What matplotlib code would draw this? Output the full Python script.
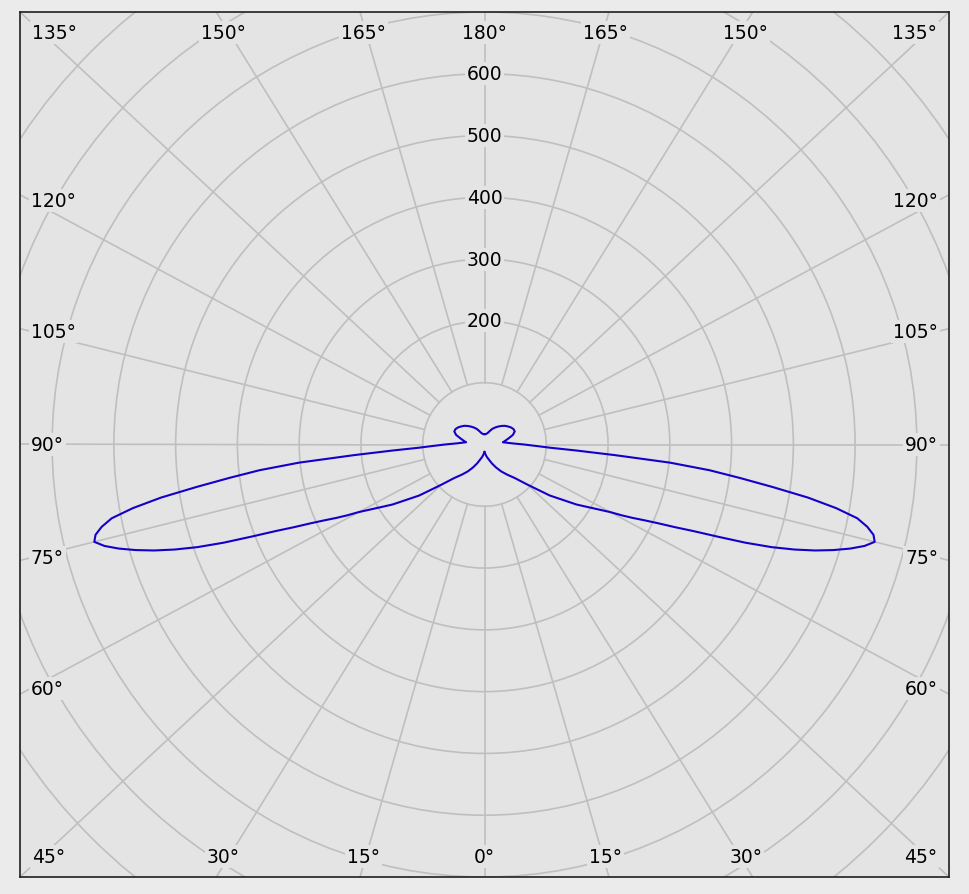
import numpy as np
import matplotlib.pyplot as plt
from matplotlib.patches import Circle

# luminous intensity (cd) against gamma angle, C0/C180 plane (symmetric)
gamma = [0, 5, 10, 15, 20, 25, 30, 35, 40, 45, 50, 55,
         60, 61, 62, 63, 64, 65, 66, 67, 68, 69, 70, 71, 72, 73, 74, 75,
         76, 77, 78, 79, 80, 81, 82, 83, 84, 85, 86, 87, 88, 89, 90,
         92.5, 95, 97.5, 100, 105, 110, 115, 120, 125, 130, 135, 140,
         145, 150, 155, 160, 165, 170, 175, 180]
intensity = [13, 17, 22, 27, 35, 44, 54, 64, 76, 99, 138, 182,
             235, 254, 272, 290, 312, 340, 370, 410, 456, 498, 534, 566,
             594, 619, 640, 654,
             649, 636, 617, 580, 532, 472, 417, 367, 302, 212, 148, 106,
             88, 74, 64,
             45, 36, 30, 33, 40, 49, 54, 54, 52, 49, 46, 42,
             38, 34, 30, 25, 21, 19, 18, 18]

rings = [100, 200, 300, 400, 500, 600, 700, 800, 900]
ring_labels = [200, 300, 400, 500, 600]
spoke_angles = list(range(0, 360, 15))

BG = '#e4e4e4'
GRID = '#bfbfbf'
XMAX, YMAX = 752, 700
K = YMAX / XMAX  # the grid is stretched to the frame


def to_xy(g, r, side=1):
    g = np.radians(np.asarray(g, dtype=float))
    r = np.asarray(r, dtype=float)
    return side * r * np.sin(g), -K * r * np.cos(g)


fig = plt.figure(figsize=(9.69, 8.95), dpi=100, facecolor='#ebebeb')
ax = fig.add_axes([20 / 969, 17 / 895, 929 / 969, 865 / 895])
ax.set_facecolor(BG)
ax.set_xlim(-XMAX, XMAX)
ax.set_ylim(-YMAX, YMAX)
ax.set_xticks([])
ax.set_yticks([])
for sp in ax.spines.values():
    sp.set_color('#202020')
    sp.set_linewidth(1.2)

for r in rings:
    ax.add_patch(Circle((0, 0), r, fill=False, color=GRID, lw=1.2, zorder=1))

for a in spoke_angles:
    dx, dy = to_xy(a, 1.0)
    start = 100 / np.hypot(dx, dy)
    ax.plot([dx * start, dx * 1500], [dy * start, dy * 1500], color=GRID, lw=1.2, zorder=1)

# intensity curve, both half planes
xr, yr = to_xy(gamma, intensity, 1)
xl, yl = to_xy(gamma, intensity, -1)
ax.plot(xr, yr, color='#1400c8', lw=1.5, zorder=3)
ax.plot(xl, yl, color='#1400c8', lw=1.5, zorder=3)

font = dict(family='DejaVu Sans', fontsize=13.5, color='black', zorder=4)
box = dict(facecolor=BG, edgecolor='none', pad=1.5)

for v in ring_labels:
    ax.text(0, v, str(v), ha='center', va='center', bbox=box, **font)

# angle labels where each spoke meets the inside of the frame
inset = 17.8
hw, hh = XMAX - inset, YMAX - inset
for a in spoke_angles:
    dx, dy = to_xy(a, 1.0)
    tx = hw / abs(dx) if abs(dx) > 1e-9 else np.inf
    ty = hh / abs(dy) if abs(dy) > 1e-9 else np.inf
    t = min(tx, ty)
    px, py = dx * t, dy * t
    label = f"{a if a <= 180 else 360 - a}°"
    if abs(tx - ty) / t < 0.02:
        ha = 'left' if px < 0 else 'right'
        va = 'top' if py > 0 else 'bottom'
    elif tx < ty:
        ha = 'left' if px < 0 else 'right'
        va = 'center'
    else:
        ha = 'center'
        va = 'top' if py > 0 else 'bottom'
    ax.text(px, py, label, ha=ha, va=va, bbox=box, **font)

fig.savefig('out.png', dpi=100, facecolor=fig.get_facecolor())
